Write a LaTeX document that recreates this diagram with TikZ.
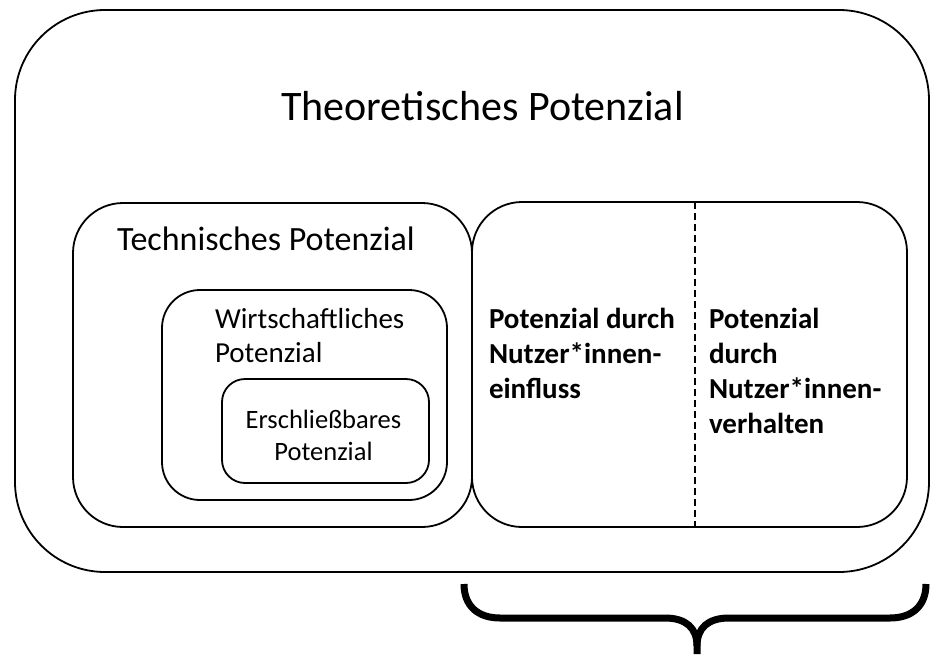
\documentclass[tikz,border=0pt]{standalone}
\usepackage{fontspec}
\setmainfont{Carlito}
\begin{document}
\begin{tikzpicture}[x=1pt,y=-1pt,
  box/.style={draw,line width=1.8pt,rounded corners=#1},
  lbl/.style={inner sep=0pt,outer sep=0pt},
  fT/.style={font=\fontsize{42}{50}\selectfont},
  fTe/.style={font=\fontsize{34}{41}\selectfont},
  fW/.style={font=\fontsize{29}{35}\selectfont},
  fE/.style={font=\fontsize{26.5}{32}\selectfont},
  fB/.style={font=\fontsize{29}{35}\selectfont\bfseries},
  bracepath/.style={line width=7pt}]
\useasboundingbox (0,0) rectangle (930,654);
% boxes
\draw[box=90pt] (15,10) rectangle (929,572);
\draw[box=50pt] (73,203) rectangle (472,527);
\draw[box=50pt] (472,202) rectangle (907,527);
\draw[box=38pt] (162,290) rectangle (447,500);
\draw[box=23pt] (222,379) rectangle (429,483);
\coordinate (dtop) at (695,202);
\coordinate (dbot) at (695,527);
\draw[line width=1.5pt,dash pattern=on 7pt off 4pt] (dtop) -- (dbot);
% texts
\node[lbl,fT,anchor=base] (theo) at (482.5,120) {Theoretisches Potenzial};
\node[lbl,fTe,anchor=base west] (tech) at (117,250) {Technisches Potenzial};
\node[lbl,fW,anchor=base west] (w1) at (215,328) {Wirtschaftliches};
\node[lbl,fW,anchor=base west] (w2) at (215,362) {Potenzial};
\node[lbl,fE,anchor=base] (e1) at (323.5,428) {Erschließbares};
\node[lbl,fE,anchor=base] (e2) at (323.5,460) {Potenzial};
\node[lbl,fB,anchor=base west] (a1) at (489,328) {Potenzial durch};
\node[lbl,fB,anchor=base west] (a2) at (489,363) {Nutzer*innen-};
\node[lbl,fB,anchor=base west] (a3) at (489,398) {einfluss};
\node[lbl,fB,anchor=base west] (b1) at (709,328) {Potenzial};
\node[lbl,fB,anchor=base west] (b2) at (709,363) {durch};
\node[lbl,fB,anchor=base west] (b3) at (709,398) {Nutzer*innen-};
\node[lbl,fB,anchor=base west] (b4) at (709,433) {verhalten};
% brace
\coordinate (bl) at (464,584);
\coordinate (br) at (926,584);
\coordinate (bt) at (697,654);
\draw[bracepath] (bl) .. controls (464,606) and (478,618) .. (500,618)
  -- (665,618) .. controls (686,618) and (697,628) .. (697,646) -- (bt);
\draw[bracepath] (br) .. controls (926,606) and (912,618) .. (890,618)
  -- (729,618) .. controls (708,618) and (697,628) .. (697,646);
\end{tikzpicture}
\end{document}
